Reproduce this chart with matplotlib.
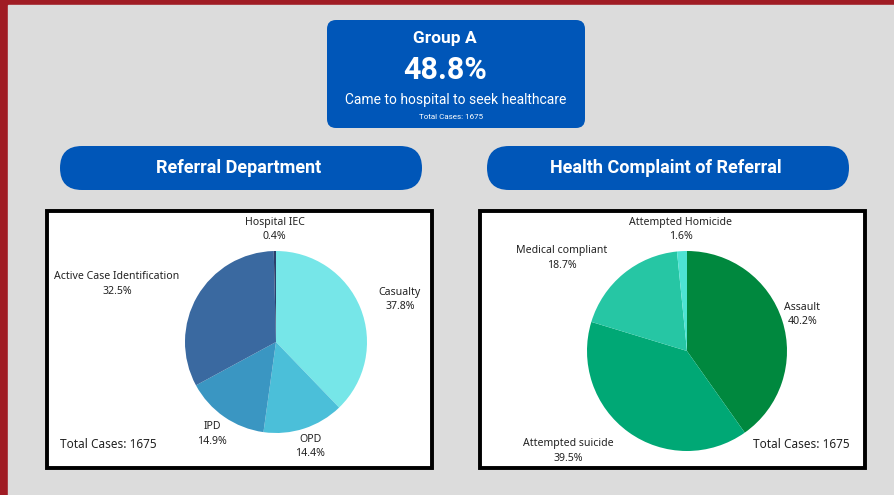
import numpy as np
import matplotlib
matplotlib.use("Agg")
import matplotlib.pyplot as plt
from matplotlib.patches import FancyBboxPatch, Rectangle

# --- data ---
group_name = "Group A"
group_share = "48.8%"
group_caption = "Came to hospital to seek healthcare"
total_cases = 1675

dept_labels = ["Casualty", "OPD", "IPD", "Active Case Identification", "Hospital IEC"]
dept_values = [37.8, 14.4, 14.9, 32.5, 0.4]
dept_colors = ["#76e6e8", "#4bbfd9", "#3a96c2", "#3a69a0", "#2b3f6b"]

compl_labels = ["Assault", "Attempted suicide", "Medical compliant", "Attempted Homicide"]
compl_values = [40.2, 39.5, 18.7, 1.6]
compl_colors = ["#00883e", "#00a875", "#26c6a4", "#4de3d3"]

# label placement (radius factor, angle nudge in degrees)
dept_lab_dist = [1.44, 1.21, 1.23, 1.86, 1.24]
dept_lab_shift = [-3, 0, 0, 10, 0]
compl_lab_dist = [1.21, 1.55, 1.56, 1.22]
compl_lab_shift = [0, -14, 14, 0]

BLUE = "#0056b8"
RED = "#a01c24"
BG = "#dcdcdc"
LABEL_FONT = ["Noto Sans", "DejaVu Sans"]
HEAD_FONT = ["Roboto", "DejaVu Sans"]

W, H = 895, 495
fig = plt.figure(figsize=(W / 100, H / 100), dpi=100)
fig.patch.set_facecolor(RED)

bg = fig.add_axes([0, 0, 1, 1])
bg.set_xlim(0, W)
bg.set_ylim(H, 0)
bg.axis("off")
bg.add_patch(Rectangle((8, 5), W - 8, H - 5, color=BG, zorder=0))

# header card
bg.add_patch(FancyBboxPatch((327, 20), 258, 108, boxstyle="round,pad=0,rounding_size=9",
                            fc=BLUE, ec="none"))
bg.text(445, 39, group_name, color="white", fontsize=12.5, fontweight="bold",
        ha="center", va="center", family=HEAD_FONT)
bg.text(445, 70, group_share, color="white", fontsize=22, fontweight="bold",
        ha="center", va="center", family=HEAD_FONT)
bg.text(456, 100, group_caption, color="white", fontsize=10,
        ha="center", va="center", family=HEAD_FONT)
bg.text(451, 117, f"Total Cases: {total_cases}", color="white", fontsize=5.8,
        ha="center", va="center", family=HEAD_FONT)

# section pills
for x0, title in [(60, "Referral Department"), (487, "Health Complaint of Referral")]:
    bg.add_patch(FancyBboxPatch((x0, 146), 362, 44, boxstyle="round,pad=0,rounding_size=22",
                                fc=BLUE, ec="none"))
    bg.text(x0 + 179, 168, title, color="white", fontsize=13, fontweight="bold",
            ha="center", va="center", family=HEAD_FONT)

# panels
for x0 in (47, 480):
    bg.add_patch(Rectangle((x0, 211), 385, 257, fc="white", ec="black", lw=2.8))


def draw_pie(cx, cy, r, values, labels, colors, dists, shifts):
    span = 2.0
    ax = fig.add_axes([(cx - span * r) / W, 1 - (cy + span * r) / H,
                       2 * span * r / W, 2 * span * r / H])
    wedges, _ = ax.pie(values, colors=colors, startangle=90, counterclock=False,
                       wedgeprops=dict(linewidth=0))
    ax.set_xlim(-span, span)
    ax.set_ylim(-span, span)
    ax.set_aspect("equal")
    ax.axis("off")
    for w, lab, v, d, s in zip(wedges, labels, values, dists, shifts):
        ang = np.deg2rad((w.theta1 + w.theta2) / 2 + s)
        ax.text(d * np.cos(ang), d * np.sin(ang), f"{lab}\n{v}%", ha="center", va="center",
                fontsize=7.6, color="#222222", family=LABEL_FONT, linespacing=1.4)
    return ax


draw_pie(276, 342, 91, dept_values, dept_labels, dept_colors, dept_lab_dist, dept_lab_shift)
draw_pie(687, 351, 100, compl_values, compl_labels, compl_colors, compl_lab_dist, compl_lab_shift)

for x0 in (60, 753):
    bg.text(x0, 444, f"Total Cases: {total_cases}", fontsize=8.5, color="#222222",
            ha="left", va="center", family=LABEL_FONT)

fig.savefig("out.png", dpi=100, facecolor=fig.get_facecolor())
